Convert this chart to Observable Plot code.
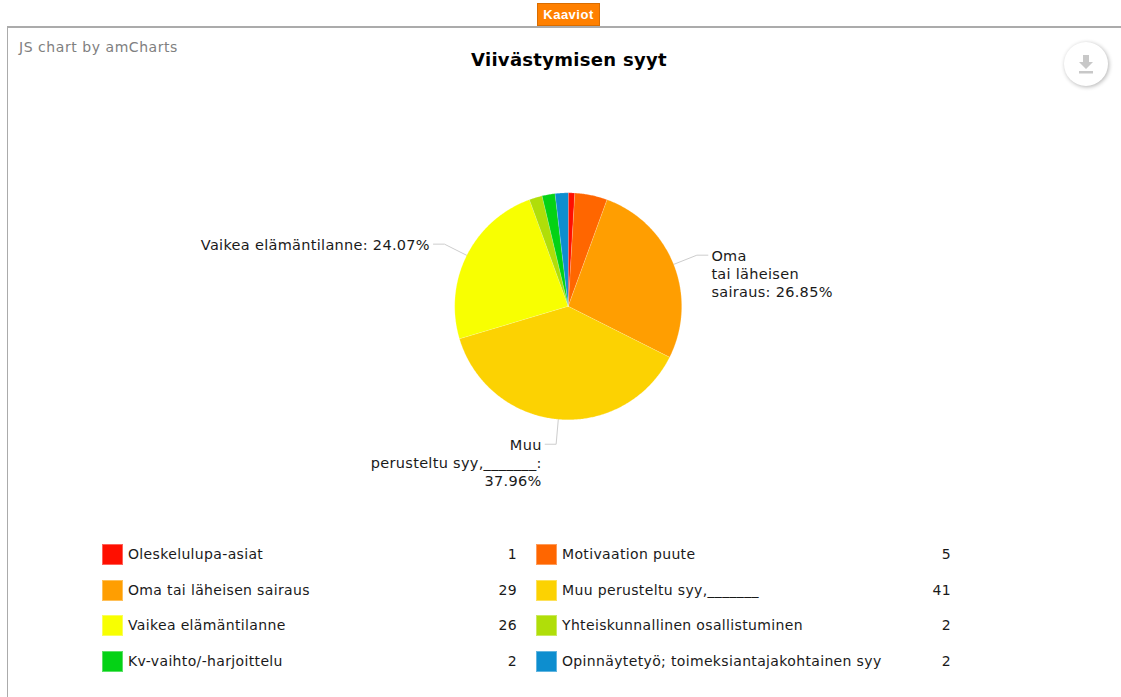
<!DOCTYPE html>
<html>
<head>
<meta charset="utf-8">
<script src="https://cdn.jsdelivr.net/npm/d3@7"></script>
<script src="https://cdn.jsdelivr.net/npm/@observablehq/plot@0.6"></script>
<style>
html,body{margin:0;padding:0;background:#fff;overflow:hidden}
#page{position:relative;width:1121px;height:697px;overflow:hidden;font-family:"DejaVu Sans",sans-serif;color:#000}
#page svg.plot{position:absolute;left:0;top:0;background:none}
.abs{position:absolute;white-space:nowrap}
#tab{left:537px;top:3px;width:63px;height:23px;box-sizing:border-box;background:#ff8000;border:1px solid #d96d00;color:#fff;font:bold 13px/21px "Liberation Sans",sans-serif;letter-spacing:.5px;text-align:center}
#frame{left:7px;top:25.5px;width:1120px;height:680px;box-sizing:border-box;border:2px solid #ababab;border-width:2px 0 0 1.5px}
#credit{left:19px;top:38px;font-size:14px;line-height:18px;letter-spacing:.55px;color:#808080}
#title{left:471px;top:49px;font-size:18px;line-height:21px;font-weight:bold;letter-spacing:.3px;color:#000}
#dl{left:1064px;top:42px;width:44px;height:44px;border-radius:50%;background:#fff;box-shadow:1px 1px 4px rgba(0,0,0,.3)}
.sw{width:21px;height:21px;box-sizing:border-box;border:1px solid rgba(255,255,255,.35)}
.lg{font-size:14px;line-height:18px;letter-spacing:.35px;color:#1a1a1a}
</style>
</head>
<body>
<div id="page">
  <div class="abs" id="frame"></div>
  <div class="abs" id="tab">Kaaviot</div>
  <div class="abs" id="credit">JS chart by amCharts</div>
  <div class="abs" id="title">Viivästymisen syyt</div>
  <div class="abs" id="dl"><svg width="44" height="44"><path d="M19 13h6v7h4l-7 7-7-7h4z M15 29h14v2.5h-14z" fill="#c8c8c8"/></svg></div>
</div>
<script>
const names = ["Oleskelulupa-asiat","Motivaation puute","Oma tai läheisen sairaus","Muu perusteltu syy,_______","Vaikea elämäntilanne","Yhteiskunnallinen osallistuminen","Kv-vaihto/-harjoittelu","Opinnäytetyö; toimeksiantajakohtainen syy"];
const counts = [1,5,29,41,26,2,2,2];
const colors = ["#FF0F00","#FF6600","#FF9E01","#FCD202","#F8FF01","#B0DE09","#04D215","#0D8ECF"];
const labelTexts = {
  "Oma tai läheisen sairaus": "Oma\ntai läheisen\nsairaus: 26.85%",
  "Muu perusteltu syy,_______": "Muu\nperusteltu syy,_______:\n37.96%",
  "Vaikea elämäntilanne": "Vaikea elämäntilanne: 24.07%"
};

// Layout of the page
const W = 1121, H = 697, cx = 567.7, cy = 305.8, R = 113.5;
const font = '"DejaVu Sans", sans-serif';

// Slice geometry comes from the counts, in units of the pie's radius
const arcs = d3.pie().sort(null)(counts);
const polar = (r, a) => ({x: r * Math.sin(a), y: r * Math.cos(a)});
const slicePts = arcs.flatMap((arc, i) => {
  const n = Math.max(2, Math.ceil((arc.endAngle - arc.startAngle) / 0.01));
  const pts = [{name: names[i], ...polar(0, 0)}];
  for (let k = 0; k <= n; k++) {
    pts.push({name: names[i], ...polar(1, arc.startAngle + (arc.endAngle - arc.startAngle) * k / n)});
  }
  return pts;
});
const labelled = arcs.map((arc, i) => ({name: names[i], mid: (arc.startAngle + arc.endAngle) / 2}))
  .filter(d => labelTexts[d.name]);
const leaders = labelled.flatMap(d => {
  const e = polar(1, d.mid), k = polar(1.22, d.mid), side = Math.sin(d.mid) > 0 ? 1 : -1;
  return [{name: d.name, ...e}, {name: d.name, ...k}, {name: d.name, x: k.x + side * 11 / R, y: k.y}];
});
const labels = labelled.map(d => {
  const k = polar(1.22, d.mid), side = Math.sin(d.mid) > 0 ? 1 : -1;
  return {text: labelTexts[d.name], side, x: k.x + side * 14.5 / R, y: k.y};
});
const labelMark = (side, textAnchor) => Plot.text(labels.filter(d => d.side === side), {
  x: "x", y: "y", text: "text", textAnchor, lineAnchor: "top", lineHeight: 1.22, dy: -6.5,
  fontSize: 14.5, fontFamily: font, fill: "#1a1a1a"
});

const chart = Plot.plot({
  width: W, height: H, margin: 0,
  style: {background: "none", overflow: "visible", letterSpacing: "0.3px"},
  x: {domain: [-cx / R, (W - cx) / R], axis: null},
  y: {domain: [-(H - cy) / R, cy / R], axis: null},
  color: {domain: names, range: colors},
  marks: [
    Plot.line(leaders, {x: "x", y: "y", z: "name", stroke: "#cdcdcd", strokeWidth: 1}),
    Plot.line(slicePts, {x: "x", y: "y", z: "name", fill: "name", stroke: "#fff", strokeOpacity: 0.2, strokeWidth: 1, curve: "linear-closed"}),
    labelMark(1, "start"),
    labelMark(-1, "end")
  ]
});
const page = document.getElementById("page");
page.appendChild(chart);

// Legend
const legendCols = [{sw: 102, tx: 128, val: 517}, {sw: 536, tx: 562, val: 951}];
const legendRows = [554, 590, 625, 661];
function add(cls, css, text) {
  const el = document.createElement("div");
  el.className = "abs " + cls;
  Object.assign(el.style, css);
  if (text !== undefined) el.textContent = text;
  page.appendChild(el);
}
names.forEach((name, i) => {
  const c = legendCols[i % 2], y = legendRows[Math.floor(i / 2)];
  add("sw", {left: c.sw + "px", top: (y - 10.5) + "px", background: colors[i]});
  add("lg", {left: c.tx + "px", top: (y - 9) + "px"}, name);
  add("lg", {right: (W - c.val) + "px", top: (y - 9) + "px"}, counts[i]);
});
</script>
</body>
</html>
